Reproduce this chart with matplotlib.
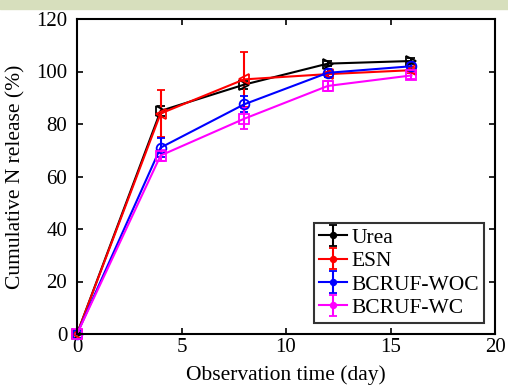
import matplotlib.pyplot as plt
import matplotlib.patches as patches
from matplotlib.lines import Line2D

plt.rcParams['font.family'] = ['Liberation Serif', 'DejaVu Serif']

days = [0, 4, 8, 12, 16]

urea = [0, 85, 95, 103, 104]
urea_err = [0, 2, 1.5, 1, 1]
esn = [0, 84, 97, 99, 100.5]
esn_err = [0, 9, 10.5, 1, 1]
woc = [0, 71, 87.5, 99.5, 102]
woc_err = [0, 3.5, 3, 1.5, 1.5]
wc = [0, 68, 82, 94.5, 98.5]
wc_err = [0, 2, 4, 2, 1.5]

fig = plt.figure(figsize=(5.08, 3.88), dpi=100)
# greenish strip at the top of the image
fig.patches.append(patches.Rectangle((0, 1 - 9 / 388), 1, 9 / 388, transform=fig.transFigure,
                                     color='#d7dfbd', zorder=0))
ax = fig.add_axes([77 / 508, 1 - 334 / 388, 418 / 508, 315 / 388])

kw = dict(linewidth=1.5, elinewidth=1.5, capsize=3, markersize=7, markerfacecolor='none',
          markeredgewidth=1.3, clip_on=False)
ax.errorbar(days, urea, yerr=urea_err, color='black', marker='>', label='Urea', **kw)
ax.errorbar(days, esn, yerr=esn_err, color='red', marker='<', label='ESN', **kw)
ax.errorbar(days, woc, yerr=woc_err, color='blue', marker='o', label='BCRUF-WOC', **kw)
ax.errorbar(days, wc, yerr=wc_err, color='magenta', marker='s', label='BCRUF-WC', **kw)

ax.set_xlim(0, 20)
ax.set_ylim(0, 120)
ax.set_xticks([0, 5, 10, 15, 20])
ax.set_yticks([0, 20, 40, 60, 80, 100, 120])
ax.tick_params(direction='in', top=True, right=True, labelsize=15, length=4, width=1.2)
ax.tick_params(axis='x', pad=3)
ax.tick_params(axis='y', pad=7)
for s in ax.spines.values():
    s.set_linewidth(1.5)
ax.set_xlabel('Observation time (day)', fontsize=15.5, labelpad=6)
ax.set_ylabel('Cumulative N release (%)', fontsize=15.5, labelpad=8)

leg = ax.legend(loc='lower right', fontsize=15.5, frameon=True, fancybox=False,
                edgecolor='black', handlelength=1.3, handletextpad=0.2, borderpad=0.25,
                labelspacing=0.15, borderaxespad=0.5)
leg.get_frame().set_linewidth(1.5)
# legend shows small filled dots instead of the plot markers
for h in leg.findobj(Line2D):
    m = h.get_marker()
    if m in ('>', '<', 'o', 's'):
        h.set_marker('o')
        h.set_markersize(4)
        h.set_markerfacecolor(h.get_color())

fig.savefig('out.png', dpi=100)
